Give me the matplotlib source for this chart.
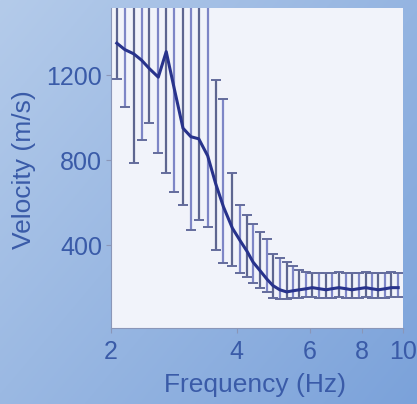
import numpy as np
import matplotlib
matplotlib.use("Agg")
import matplotlib.pyplot as plt
from matplotlib.colors import to_rgb

# frequency samples (Hz)
freq = [2.066, 2.158, 2.267, 2.368, 2.473, 2.597, 2.713, 2.833, 2.976, 3.108,
        3.246, 3.410, 3.562, 3.720, 3.907, 4.081, 4.239, 4.380, 4.551, 4.727,
        4.884, 5.074, 5.270, 5.445, 5.657, 5.877, 6.071, 6.307, 6.552, 6.769,
        7.032, 7.305, 7.548, 7.841, 8.145, 8.416, 8.744, 9.083, 9.385, 9.750]

# mean phase velocity (m/s)
velocity = [1350, 1320, 1300, 1270, 1230, 1190, 1310, 1140, 950, 910,
            900, 820, 690, 580, 480, 420, 370, 320, 280, 240,
            210, 190, 180, 185, 190, 195, 200, 195, 190, 195,
            200, 195, 190, 195, 200, 195, 190, 195, 200, 200]

# upper / lower ends of the error bars (m/s)
upper = [1800, 1800, 1800, 1800, 1800, 1800, 1800, 1800, 1800, 1800,
         1800, 1800, 1175, 1085, 740, 590, 540, 500, 460, 430,
         360, 340, 320, 300, 285, 275, 270, 270, 268, 270,
         272, 270, 268, 270, 272, 270, 268, 270, 272, 270]
lower = [1180, 1050, 785, 893, 973, 832, 738, 650, 588, 470,
         517, 484, 376, 315, 300, 268, 250, 220, 200, 180,
         150, 145, 148, 150, 152, 155, 155, 152, 150, 152,
         155, 152, 150, 152, 155, 152, 150, 152, 155, 155]

xticks = [2, 4, 6, 8, 10]
yticks = [400, 800, 1200]

text_blue = "#3a5ba8"

fig = plt.figure(figsize=(4.17, 4.04), dpi=100)

# blue gradient backdrop
bg = fig.add_axes([0, 0, 1, 1], zorder=-10)
gx, gy = np.meshgrid(np.linspace(0, 1, 200), np.linspace(0, 1, 200))
c1 = np.array(to_rgb("#b4cbea"))
c2 = np.array(to_rgb("#7ba2da"))
t = np.clip(0.55 * gx + 0.45 * gy, 0, 1)[..., None]
bg.imshow(c1 * (1 - t) + c2 * t, aspect="auto", extent=[0, 1, 0, 1])
bg.axis("off")

ax = fig.add_axes([0.266, 0.188, 0.700, 0.792])
ax.set_facecolor("#f1f3fa")

v = np.array(velocity)
err = np.vstack([v - np.array(lower), np.array(upper) - v])
eb = ax.errorbar(freq, velocity, yerr=err, fmt="none", ecolor="#646c9c",
                 elinewidth=1.6, capsize=3.6, capthick=1.4, zorder=2)
bar_cols = ["#5e6690" if i % 2 == 0 else "#7e86c6" for i in range(len(freq))]
eb[2][0].set_color(bar_cols)
ax.plot(freq, velocity, color="#28338c", lw=2.2, zorder=3)

ax.set_xscale("log")
ax.set_xlim(2.02, 9.91)
ax.set_ylim(10, 1515)
ax.set_xticks(xticks)
ax.set_xticklabels([str(x) for x in xticks])
ax.xaxis.set_minor_locator(matplotlib.ticker.NullLocator())
ax.set_yticks(yticks)

for s in ax.spines.values():
    s.set_color("#8a96b8")
    s.set_linewidth(0.8)
ax.spines["right"].set_visible(False)
ax.spines["top"].set_visible(False)

ax.tick_params(axis="both", colors="#8a96b8", labelcolor=text_blue,
               labelsize=18, length=3.5, width=0.8)
ax.tick_params(axis="x", pad=5)
ax.tick_params(axis="y", pad=3)
for lab in ax.get_xticklabels() + ax.get_yticklabels():
    lab.set_family("Liberation Sans")

ax.set_xlabel("Frequency (Hz)", fontsize=19, color=text_blue,
              family="Liberation Sans")
ax.set_ylabel("Velocity (m/s)", fontsize=19, color=text_blue,
              family="Liberation Sans")
ax.xaxis.set_label_coords(0.493, -0.14)
ax.yaxis.set_label_coords(-0.255, 0.494)

fig.savefig("out.png", dpi=100)
